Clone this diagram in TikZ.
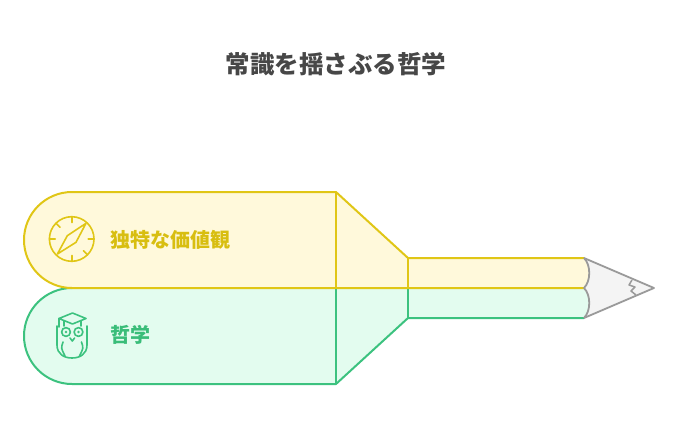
\documentclass[tikz,border=0pt]{standalone}
\usepackage{fontspec}
\setmainfont{Noto Sans CJK JP}
\usepackage{tikz}

\definecolor{yline}{HTML}{E0C616}
\definecolor{yfill}{HTML}{FFF9DB}
\definecolor{ytext}{HTML}{D8BE10}
\definecolor{gline}{HTML}{3CC27F}
\definecolor{gfill}{HTML}{E3FCEF}
\definecolor{gtext}{HTML}{3ABD79}
\definecolor{tipline}{HTML}{9A9A9A}
\definecolor{tipfill}{HTML}{F4F4F4}
\definecolor{titletext}{HTML}{474747}

\begin{document}
\begin{tikzpicture}[x=1pt,y=-1pt,
    band/.style={line width=2pt, line join=round},
    icon/.style={line width=1.6pt, line cap=round, line join=round},
    label/.style={anchor=west, font=\bfseries\fontsize{20}{23}\selectfont}]
        \useasboundingbox (0,0) rectangle (678,432);

        % title
        \node[font=\bfseries\fontsize{24.5}{28}\selectfont, text=titletext] (title) at (336,64) {常識を揺さぶる哲学};

        % pencil tip
        \fill[tipfill] (584,258) -- (654,288) -- (584,318) -- cycle;

        % lower band
        \fill[gfill] (72,288) -- (584,288) .. controls (591,295) and (591,311) .. (584,318)
            -- (408,318) -- (336,384) -- (72,384) arc[start angle=270, end angle=90, radius=48pt] -- cycle;
        \draw[band, gline] (584,318) -- (408,318) -- (336,384) -- (72,384)
            arc[start angle=270, end angle=90, radius=48pt];
        \draw[band, gline] (336,288) -- (336,384);
        \draw[band, gline] (408,288) -- (408,318);

        % upper band
        \fill[yfill] (72,192) -- (336,192) -- (408,258) -- (584,258) .. controls (591,265) and (591,281) .. (584,288)
            -- (72,288) arc[start angle=270, end angle=90, radius=48pt] -- cycle;
        \draw[band, yline] (584,258) -- (408,258) -- (336,192) -- (72,192)
            arc[start angle=90, end angle=270, radius=48pt] -- (584,288);
        \draw[band, yline] (336,192) -- (336,288);
        \draw[band, yline] (408,258) -- (408,288);

        % tip outline
        \draw[band, tipline, line width=1.8pt] (584,258) .. controls (591,265) and (591,281) .. (584,288)
            .. controls (591,295) and (591,311) .. (584,318);
        \draw[band, tipline, line width=1.8pt] (584,258) -- (654,288) -- (584,318);
        \draw[tipline, line width=1.5pt, line join=round] (632,280) -- (629,285) -- (635,287) -- (631,291) -- (636,295);

        % compass
        \draw[icon, yline] (71.7,239) circle[radius=22.3pt];
        \foreach \a in {0,90,180,270,135,315}
            \draw[icon, yline] (71.7,239) ++(\a:16.5pt) -- ++(\a:5.8pt);
        \draw[icon, yline] (57.4,254) -- (67.3,235.7) -- (86,223.3) -- (76,242.3) -- cycle;

        % owl
        \draw[icon, gline] (59,318.5) -- (72.5,313) -- (86,318.5) -- (72.5,324) -- cycle;
        \draw[icon, gline] (64,321) -- (64,326) (81,321) -- (81,326);
        \draw[icon, gline] (59,318.5) -- (59,327);
        \draw[icon, gline] (57,326) -- (57,345) .. controls (57,354) and (64,358) .. (72,358)
            .. controls (80,358) and (87,354) .. (87,345) -- (87,326);
        \draw[icon, gline] (66,332) circle[radius=4.4pt] (78.5,332) circle[radius=4.4pt];
        \fill[gline] (66,332) circle[radius=1.4pt] (78.5,332) circle[radius=1.4pt];
        \draw[icon, gline] (70,338) -- (72.3,341) -- (74.6,338);
        \draw[icon, gline] (63,342) .. controls (61,348) .. (65,356);
        \draw[icon, gline] (81.5,342) .. controls (83.5,348) .. (79.5,356);

        % labels
        \node[label, text=ytext] (valuetext) at (107,240) {独特な価値観};
        \node[label, text=gtext] (philotext) at (107,335) {哲学};
    \end{tikzpicture}
\end{document}
